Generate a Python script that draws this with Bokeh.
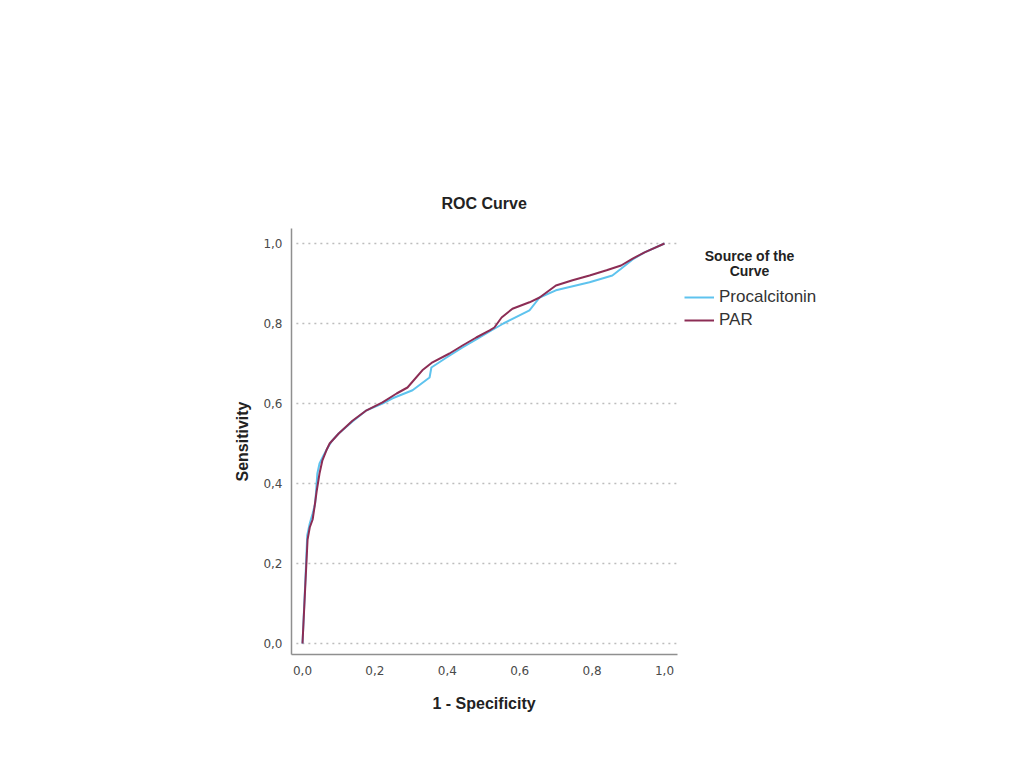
from bokeh.plotting import figure
from bokeh.models import (Range1d, Legend, LegendItem, Label, CustomJSTickFormatter,
                          FixedTicker, Title)
from bokeh.embed import file_html
from bokeh.resources import INLINE

# ---- data ----
series_names = ["Procalcitonin", "PAR"]
pct_fpr = [0, 0.008, 0.013, 0.02, 0.028, 0.035, 0.041, 0.047, 0.058, 0.07, 0.08, 0.10,
           0.138, 0.177, 0.221, 0.249, 0.304, 0.351, 0.356, 0.398, 0.442, 0.48, 0.517,
           0.555, 0.627, 0.655, 0.70, 0.793, 0.856, 0.88, 0.912, 0.945, 1.0]
pct_tpr = [0, 0.16, 0.27, 0.30, 0.325, 0.35, 0.425, 0.45, 0.47, 0.49, 0.505, 0.525,
           0.555, 0.583, 0.60, 0.613, 0.633, 0.665, 0.69, 0.715, 0.74, 0.76, 0.78,
           0.80, 0.833, 0.865, 0.883, 0.903, 0.92, 0.937, 0.96, 0.978, 1.0]
par_fpr = [0, 0.008, 0.014, 0.02, 0.028, 0.033, 0.039, 0.047, 0.055, 0.066, 0.075, 0.10,
           0.138, 0.177, 0.221, 0.26, 0.29, 0.331, 0.359, 0.406, 0.442, 0.48, 0.517,
           0.53, 0.55, 0.58, 0.627, 0.655, 0.70, 0.746, 0.793, 0.84, 0.88, 0.912, 0.945, 1.0]
par_tpr = [0, 0.15, 0.26, 0.29, 0.31, 0.34, 0.38, 0.425, 0.458, 0.483, 0.50, 0.525,
           0.557, 0.583, 0.603, 0.625, 0.64, 0.683, 0.703, 0.725, 0.745, 0.765, 0.783,
           0.79, 0.815, 0.837, 0.853, 0.865, 0.895, 0.908, 0.92, 0.933, 0.945, 0.962, 0.978, 1.0]
ticks = [0, 0.2, 0.4, 0.6, 0.8, 1.0]
legend_title_lines = ["Source of the", "Curve"]

FONT = "Liberation Sans"
TICKFONT = "DejaVu Sans"

# the frame is widened to the right so the legend can live inside it;
# the x axis line and the gridlines are limited to the data area
X_LO, X_HI = -0.0304, 1.036
p = figure(frame_width=538, frame_height=426, output_backend="svg", toolbar_location=None,
           x_range=Range1d(X_LO, 1.4558), y_range=Range1d(-0.0275, 1.0375),
           min_border_left=291, min_border_right=181, min_border_top=228,
           min_border_bottom=113)
p.outline_line_color = None
p.background_fill_color = "white"
p.border_fill_color = "white"

# title
p.title.text = "ROC Curve"
p.title.align = "left"
p.title.offset = 150
p.title.text_font = FONT
p.title.text_font_size = "16px"
p.title.text_font_style = "bold"
p.title.text_color = "#222222"
p.title.standoff = 33

fmt = CustomJSTickFormatter(code="return tick.toFixed(1).replace('.', ',');")
for ax in (p.xaxis[0], p.yaxis[0]):
    ax.ticker = FixedTicker(ticks=ticks)
    ax.formatter = fmt
    ax.major_tick_line_color = None
    ax.minor_tick_line_color = None
    ax.major_tick_out = 0
    ax.major_tick_in = 0
    ax.axis_line_color = "#8f8f8f"
    ax.axis_line_width = 1.5
    ax.major_label_text_font = TICKFONT
    ax.major_label_text_font_size = "12px"
    ax.major_label_text_color = "#4a4a4a"
    ax.axis_label_text_font = FONT
    ax.axis_label_text_font_size = "16px"
    ax.axis_label_text_font_style = "bold"
    ax.axis_label_text_color = "#222222"

p.xaxis.bounds = (X_LO, X_HI)
p.yaxis.axis_label = "Sensitivity"
p.xaxis.major_label_standoff = 11
p.yaxis.major_label_standoff = 9
p.yaxis.axis_label_standoff = 9

# x-axis label as a below-title so it is centred on the data area
xlab = Title(text="1 - Specificity", align="left", offset=141, standoff=30,
             text_font=FONT, text_font_size="16px", text_font_style="bold",
             text_color="#222222")
p.add_layout(xlab, "below")

# dotted horizontal gridlines over the data area only
p.xgrid.grid_line_color = None
p.ygrid.grid_line_color = None
p.segment(x0=[-0.017] * len(ticks), x1=[1.033] * len(ticks), y0=ticks, y1=ticks,
          line_color="#bdbdbd", line_dash="2 4", line_width=1.5)

r1 = p.line(pct_fpr, pct_tpr, line_color="#5ec3ee", line_width=2)
r2 = p.line(par_fpr, par_tpr, line_color="#8c2d55", line_width=2)

legend = Legend(items=[LegendItem(label=series_names[0], renderers=[r1]),
                       LegendItem(label=series_names[1], renderers=[r2])],
                location=(393, 324), border_line_color=None, background_fill_alpha=0,
                glyph_width=30, glyph_height=20, label_standoff=5, spacing=3,
                padding=0, margin=0,
                label_text_font=FONT, label_text_font_size="17px",
                label_text_color="#333333")
p.add_layout(legend)

for i, t in enumerate(legend_title_lines):
    p.add_layout(Label(x=458, y=399 - i * 15, x_units="screen", y_units="screen",
                       text=t, text_align="center", text_baseline="middle",
                       text_font=FONT, text_font_size="14px", text_font_style="bold",
                       text_color="#222222"))

open("out.html", "w").write(file_html(p, INLINE))
